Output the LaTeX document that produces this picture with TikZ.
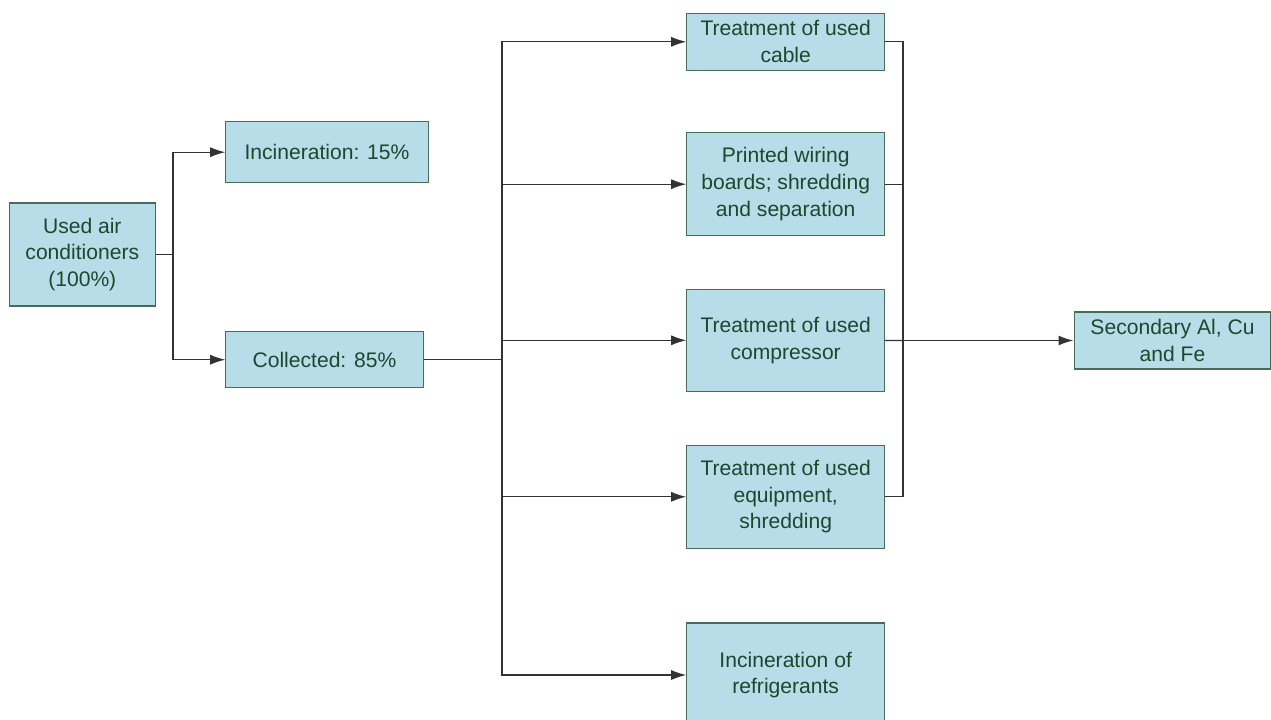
\documentclass[tikz,border=0pt]{standalone}
\usepackage{fontspec}
\setmainfont{Liberation Sans}
\usepackage{tikz}
\usetikzlibrary{arrows.meta}
\usepackage{color}
\definecolor{Box-fill}{RGB}{183,221,232}
\definecolor{Box-line}{RGB}{72,108,86}
\definecolor{Box-text}{RGB}{28,72,46}
\tikzset{ box/.style ={draw=Box-line, rectangle, line width=0.6pt, fill=Box-fill, text=Box-text, align=center, inner sep=0pt, font=\fontsize{12}{15.2}\selectfont} }
\tikzset{ link/.style={draw=black!80, line width=0.6pt} }
\tikzset{ arr/.style ={link, -{Latex[length=3.0mm, width=2.0mm]}} }

\begin{document}
\begin{tikzpicture}[x=0.02cm, y=-0.02cm]
    \useasboundingbox (0,0) rectangle (1271,720);

    \node[box, minimum width=2.91cm, minimum height=2.06cm] (l0_n0) at (  82.3, 254.5) {Used air\\conditioners\\(100\%)};

    \node[box, minimum width=4.05cm, minimum height=1.22cm] (l1_n0) at ( 327.0, 152.2) {Incineration: 15\%};
    \node[box, minimum width=3.95cm, minimum height=1.12cm] (l1_n1) at ( 324.5, 359.7) {Collected: 85\%};

    \coordinate (j0) at (173.0, 254.5);

    \draw[link] (l0_n0) -- (j0);
    \draw[arr ] (j0) |- (l1_n0);
    \draw[arr ] (j0) |- (l1_n1);

    \node[box, minimum width=3.96cm, minimum height=1.13cm] (l2_n0) at ( 785.7,  41.8) {Treatment of used\\cable};
    \node[box, minimum width=3.96cm, minimum height=2.05cm] (l2_n1) at ( 785.7, 184.2) {Printed wiring\\boards; shredding\\and separation};
    \node[box, minimum width=3.96cm, minimum height=2.05cm] (l2_n2) at ( 785.7, 340.3) {Treatment of used\\compressor};
    \node[box, minimum width=3.96cm, minimum height=2.07cm] (l2_n3) at ( 785.7, 496.8) {Treatment of used\\equipment,\\shredding};
    \node[box, minimum width=3.96cm, minimum height=2.08cm] (l2_n4) at ( 785.7, 675.0) {Incineration of\\refrigerants};

    \coordinate (j1) at (502.0, 359.7);

    \draw[link] (l1_n1) -- (j1);
    \draw[arr ] (j1) |- (l2_n0);
    \draw[arr ] (j1) |- (l2_n1);
    \draw[arr ] (j1) |- (l2_n2);
    \draw[arr ] (j1) |- (l2_n3);
    \draw[arr ] (j1) |- (l2_n4);

    \node[box, minimum width=3.94cm, minimum height=1.14cm] (l3_n0) at (1172.5, 340.5) {Secondary Al, Cu\\and Fe};

    \coordinate (j2) at (903.0, 340.5);

    \draw[link] (l2_n0) -| (j2);
    \draw[link] (l2_n1) -| (j2);
    \draw[link] (l2_n2) -- (j2);
    \draw[link] (l2_n3) -| (j2);
    \draw[arr, line width=0.9pt] (j2) -- (l3_n0);
  \end{tikzpicture}
\end{document}
